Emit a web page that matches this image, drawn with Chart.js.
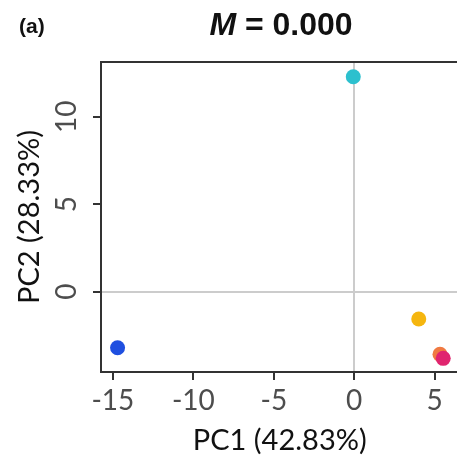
<!DOCTYPE html>
<html>
<head>
<meta charset="utf-8">
<script src="https://cdn.jsdelivr.net/npm/chart.js@4/dist/chart.umd.min.js"></script>
<style>
    html, body { margin: 0; padding: 0; background: #fff; overflow: hidden; }
    #wrap { position: relative; width: 466px; height: 458px; }
    #panel { position: absolute; left: 19px; top: 14px; font: bold 21px "Liberation Sans", Arial, sans-serif; color: #111; }
    #title { position: absolute; left: 0; width: 562px; top: 6px; text-align: center; font: bold 32px "Liberation Sans", Arial, sans-serif; color: #111; }
    #title i { font-style: italic; }
</style>
</head>
<body>
<div id="wrap">
    <canvas id="pca-chart"></canvas>
    <div id="panel">(a)</div>
    <div id="title"><i>M</i> = 0.000</div>
</div>
<script>
/* PCA score plot, panel (a) */

var PC1    = [-14.71, -0.06, 4.01, 5.33, 5.53];
var PC2    = [-3.20, 12.29, -1.56, -3.58, -3.81];
var COLORS = ['#1F4FE0', '#2CC0CE', '#F5B60F', '#F07A42', '#E0256F'];

var X_TICKS = [-15, -10, -5, 0, 5];
var Y_TICKS = [0, 5, 10];

var AXIS_FONT = 'Lato, "Open Sans", sans-serif';

var framePlugin = {
    id: 'frame',
    afterDatasetsDraw: function(chart) {
        var a = chart.chartArea, ctx = chart.ctx;
        ctx.save();
        ctx.strokeStyle = '#333333';
        ctx.lineWidth = 2;
        ctx.strokeRect(a.left, a.top, a.right - a.left, a.bottom - a.top);
        ctx.restore();
    }
};

function zeroGrid(c) {
    return c.tick && c.tick.value === 0 ? '#CCCCCC' : 'rgba(0,0,0,0)';
}

var canvas = document.getElementById('pca-chart');
canvas.width = 466;
canvas.height = 458;

new Chart(canvas, {
    type: 'scatter',
    data: {
        datasets: [{
            data: PC1.map(function(x, i) { return { x: x, y: PC2[i] }; }),
            pointBackgroundColor: COLORS,
            pointBorderWidth: 0,
            pointRadius: 7.5,
            pointHoverRadius: 7.5
        }]
    },
    options: {
        responsive: false,
        animation: false,
        layout: { padding: { top: 62, right: 5, left: 12, bottom: 0 } },
        plugins: {
            legend: { display: false },
            tooltip: { enabled: false }
        },
        scales: {
            x: {
                type: 'linear',
                min: -15.74,
                max: 6.48,
                afterBuildTicks: function(s) { s.ticks = X_TICKS.map(function(v) { return { value: v }; }); },
                afterFit: function(s) { s.height = 86; },
                border: { display: false },
                grid: { color: zeroGrid, lineWidth: 2, drawTicks: true, tickLength: 8, tickColor: '#333333', tickWidth: 2 },
                ticks: { color: '#4D4D4D', font: { family: AXIS_FONT, size: 28 }, padding: 4 },
                title: { display: true, text: 'PC1 (42.83%)', color: '#111', font: { family: AXIS_FONT, size: 29 }, padding: { top: 0, bottom: 0 } }
            },
            y: {
                type: 'linear',
                min: -4.59,
                max: 13.13,
                afterBuildTicks: function(s) { s.ticks = Y_TICKS.map(function(v) { return { value: v }; }); },
                afterFit: function(s) { s.width = 89; },
                border: { display: false },
                grid: { color: zeroGrid, lineWidth: 2, drawTicks: true, tickLength: 8, tickColor: '#333333', tickWidth: 2 },
                ticks: { color: '#4D4D4D', font: { family: AXIS_FONT, size: 28 }, padding: 10, minRotation: 90, maxRotation: 90, crossAlign: 'center' },
                title: { display: true, text: 'PC2 (28.33%)', color: '#111', font: { family: AXIS_FONT, size: 29 }, padding: { top: 0, bottom: 0 } }
            }
        }
    },
    plugins: [framePlugin]
});
</script>
</body>
</html>
